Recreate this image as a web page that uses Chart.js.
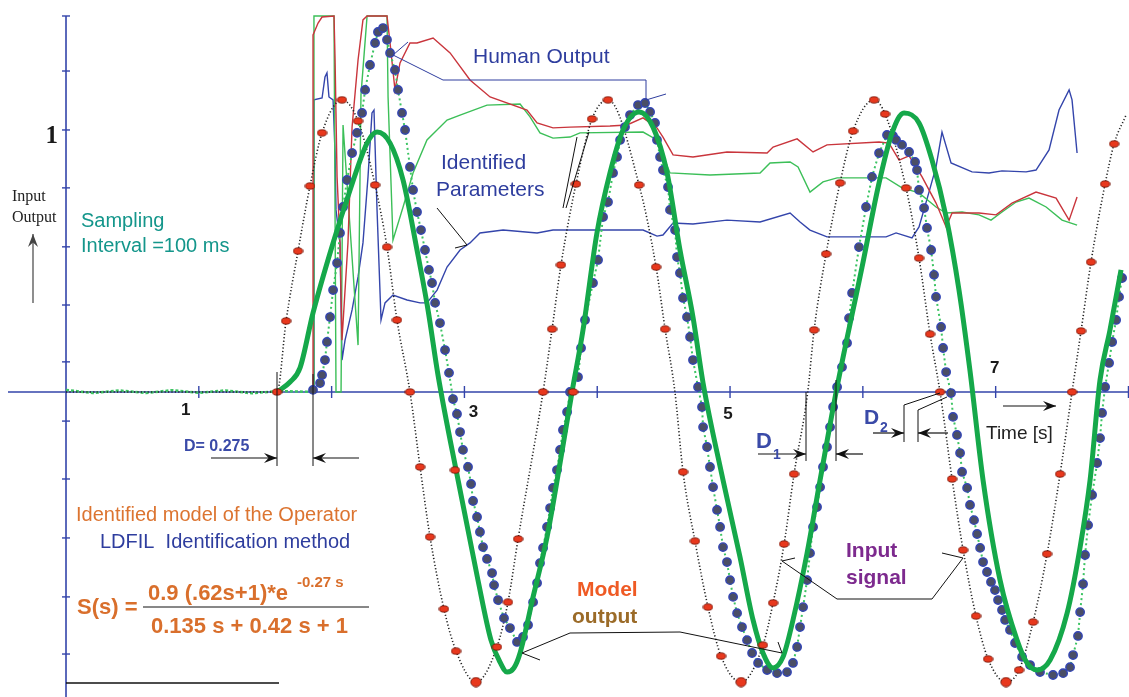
<!DOCTYPE html>
<html>
<head>
<meta charset="utf-8">
<script src="https://cdn.jsdelivr.net/npm/chart.js@4.4.1/dist/chart.umd.min.js"></script>
<style>
  html, body { margin: 0; padding: 0; background: #fff; }
  canvas { display: block; }
</style>
</head>
<body>
<canvas id="chart" width="1129" height="697"></canvas>
<script>
// time [s] / amplitude values
const inputT = [0, 1.589, 1.657, 1.747, 1.837, 1.928, 2.078, 2.199, 2.327, 2.417,
  2.492, 2.590, 2.666, 2.741, 2.846, 2.937, 3.087, 3.245, 3.328, 3.404,
  3.592, 3.660, 3.727, 3.840, 3.961, 4.081, 4.315, 4.443, 4.511, 4.585,
  4.646, 4.736, 4.834, 4.932, 5.083, 5.248, 5.324, 5.407, 5.482, 5.585,
  5.633, 5.723, 5.828, 5.926, 6.084, 6.167, 6.325, 6.423, 6.506, 6.581,
  6.672, 6.755, 6.852, 6.943, 7.078, 7.176, 7.282, 7.387, 7.485, 7.575,
  7.643, 7.718, 7.824, 7.892, 7.982];
const inputV = [0, 0, 0.271, 0.538, 0.786, 0.989, 1.115, 1.034, 0.790, 0.553,
  0.275, 0, -0.286, -0.553, -0.828, -0.989, -1.107, -0.973, -0.802, -0.561,
  0, 0.240, 0.485, 0.794, 1.042, 1.115, 0.790, 0.477, 0.240, 0,
  -0.305, -0.569, -0.821, -1.008, -1.107, -0.966, -0.805, -0.580, -0.313, 0,
  0.237, 0.527, 0.798, 0.996, 1.115, 1.061, 0.779, 0.511, 0.221, 0,
  -0.332, -0.603, -0.855, -1.019, -1.107, -1.061, -0.878, -0.618, -0.313, 0,
  0.233, 0.496, 0.794, 0.947, 1.057];

const markerT = [1.589, 1.657, 1.747, 1.837, 1.928, 2.078, 2.199, 2.327, 2.417, 2.492,
  2.590, 2.666, 2.741, 2.846, 2.937, 3.087, 3.245, 3.328, 3.404, 3.592,
  3.660, 3.727, 3.840, 3.961, 4.081, 4.315, 4.443, 4.511, 4.646, 4.736,
  4.834, 4.932, 5.083, 5.248, 5.324, 5.407, 5.482, 5.633, 5.723, 5.828,
  5.926, 6.084, 6.167, 6.325, 6.423, 6.506, 6.581, 6.672, 6.755, 6.852,
  6.943, 7.078, 7.176, 7.282, 7.387, 7.485, 7.575, 7.643, 7.718, 7.824,
  7.892, 2.929, 3.818];
const markerV = [0, 0.271, 0.538, 0.786, 0.989, 1.115, 1.034, 0.790, 0.553, 0.275,
  0, -0.286, -0.553, -0.828, -0.989, -1.107, -0.973, -0.802, -0.561, 0,
  0.240, 0.485, 0.794, 1.042, 1.115, 0.790, 0.477, 0.240, -0.305, -0.569,
  -0.821, -1.008, -1.107, -0.966, -0.805, -0.580, -0.313, 0.237, 0.527, 0.798,
  0.996, 1.115, 1.061, 0.779, 0.511, 0.221, 0, -0.332, -0.603, -0.855,
  -1.019, -1.107, -1.061, -0.878, -0.618, -0.313, 0, 0.233, 0.496, 0.794,
  0.947, -0.298, 0];

const modelT = [1.589, 1.687, 1.762, 1.860, 2.011, 2.139, 2.267, 2.342, 2.440, 2.538,
  2.643, 2.726, 2.801, 2.952, 3.102, 3.200, 3.268, 3.321, 3.373, 3.419,
  3.517, 3.622, 3.720, 3.810, 3.893, 3.998, 4.096, 4.194, 4.315, 4.420,
  4.526, 4.623, 4.721, 4.797, 4.947, 5.075, 5.173, 5.248, 5.324, 5.399,
  5.474, 5.580, 5.678, 5.806, 5.994, 6.122, 6.220, 6.310, 6.423, 6.521,
  6.627, 6.724, 6.807, 6.905, 7.033, 7.161, 7.236, 7.312, 7.410, 7.538,
  7.636, 7.711, 7.786, 7.861, 7.944];
const modelV = [0, 0.038, 0.092, 0.302, 0.569, 0.771, 0.950, 0.992, 0.950, 0.809,
  0.542, 0.313, 0.065, -0.336, -0.718, -0.947, -1.031, -1.069, -1.053, -0.996,
  -0.782, -0.553, -0.271, 0, 0.237, 0.607, 0.836, 1.0, 1.069, 1.011,
  0.836, 0.542, 0.286, 0.034, -0.336, -0.630, -0.870, -0.996, -1.053, -1.011,
  -0.870, -0.615, -0.336, 0.019, 0.477, 0.798, 0.989, 1.065, 1.027, 0.885,
  0.668, 0.389, 0.080, -0.336, -0.718, -0.947, -1.034, -1.061, -1.023, -0.844,
  -0.592, -0.336, 0.046, 0.237, 0.466];

const humanT = [1.860, 1.913, 1.928, 1.950, 1.965, 1.988, 2.011, 2.041, 2.063, 2.086,
  2.116, 2.154, 2.191, 2.229, 2.252, 2.289, 2.327, 2.349, 2.387, 2.417,
  2.440, 2.477, 2.500, 2.530, 2.553, 2.590, 2.613, 2.643, 2.673, 2.703,
  2.733, 2.756, 2.779, 2.816, 2.854, 2.884, 2.914, 2.944, 2.967, 2.989,
  3.027, 3.050, 3.065, 3.095, 3.117, 3.140, 3.170, 3.208, 3.223, 3.253,
  3.298, 3.343, 3.396, 3.441, 3.479, 3.517, 3.547, 3.569, 3.592, 3.622,
  3.645, 3.667, 3.697, 3.720, 3.742, 3.773, 3.795, 3.855, 3.878, 3.908,
  3.968, 4.006, 4.044, 4.081, 4.119, 4.149, 4.172, 4.209, 4.247, 4.307,
  4.360, 4.398, 4.435, 4.450, 4.473, 4.495, 4.533, 4.548, 4.586, 4.601,
  4.623, 4.646, 4.676, 4.699, 4.721, 4.759, 4.789, 4.797, 4.827, 4.849,
  4.872, 4.902, 4.925, 4.947, 4.977, 5.000, 5.023, 5.053, 5.090, 5.128,
  5.166, 5.211, 5.279, 5.354, 5.429, 5.474, 5.505, 5.527, 5.550, 5.580,
  5.602, 5.625, 5.655, 5.678, 5.700, 5.730, 5.753, 5.776, 5.806, 5.843,
  5.881, 5.896, 5.919, 5.971, 6.024, 6.069, 6.122, 6.182, 6.227, 6.250,
  6.295, 6.348, 6.393, 6.408, 6.423, 6.461, 6.483, 6.514, 6.536, 6.551,
  6.589, 6.604, 6.627, 6.664, 6.679, 6.709, 6.732, 6.747, 6.785, 6.807,
  6.837, 6.860, 6.883, 6.905, 6.935, 6.965, 6.995, 7.018, 7.048, 7.071,
  7.108, 7.146, 7.199, 7.259, 7.334, 7.432, 7.508, 7.560, 7.583, 7.620,
  7.636, 7.658, 7.673, 7.696, 7.726, 7.764, 7.786, 7.801, 7.824, 7.854,
  7.877, 7.907, 7.929, 7.952];
const humanV = [0.008, 0.034, 0.065, 0.122, 0.191, 0.286, 0.389, 0.492, 0.607, 0.706,
  0.809, 0.912, 0.989, 1.065, 1.153, 1.248, 1.332, 1.374, 1.389, 1.344,
  1.294, 1.229, 1.153, 1.065, 1.000, 0.859, 0.771, 0.687, 0.618, 0.542,
  0.466, 0.416, 0.340, 0.263, 0.160, 0.073, -0.027, -0.084, -0.153, -0.221,
  -0.286, -0.351, -0.416, -0.477, -0.534, -0.592, -0.637, -0.691, -0.737, -0.794,
  -0.863, -0.901, -0.954, -0.935, -0.889, -0.802, -0.729, -0.653, -0.595, -0.515,
  -0.443, -0.366, -0.298, -0.221, -0.145, -0.076, 0.000, 0.057, 0.168, 0.275,
  0.416, 0.504, 0.668, 0.725, 0.836, 0.897, 0.962, 1.011, 1.057, 1.095,
  1.103, 1.069, 1.027, 0.962, 0.897, 0.847, 0.782, 0.695, 0.618, 0.515,
  0.454, 0.359, 0.286, 0.210, 0.122, 0.019, -0.057, -0.134, -0.210, -0.286,
  -0.363, -0.450, -0.515, -0.592, -0.649, -0.718, -0.782, -0.844, -0.897, -0.947,
  -0.996, -1.034, -1.061, -1.073, -1.069, -1.034, -0.973, -0.897, -0.821, -0.718,
  -0.615, -0.515, -0.439, -0.363, -0.286, -0.210, -0.134, -0.057, 0.019, 0.095,
  0.187, 0.282, 0.378, 0.553, 0.706, 0.821, 0.912, 0.981, 0.977, 0.962,
  0.943, 0.916, 0.878, 0.847, 0.771, 0.702, 0.626, 0.542, 0.447, 0.363,
  0.248, 0.168, 0.076, -0.004, -0.095, -0.164, -0.233, -0.305, -0.366, -0.431,
  -0.489, -0.542, -0.595, -0.649, -0.687, -0.725, -0.756, -0.794, -0.832, -0.870,
  -0.908, -0.958, -1.011, -1.042, -1.069, -1.080, -1.073, -1.050, -1.004, -0.931,
  -0.840, -0.733, -0.622, -0.508, -0.393, -0.271, -0.176, -0.080, 0.019, 0.111,
  0.191, 0.275, 0.363, 0.435];

// output trace before the operator reacts (small noise around zero)
const baseT = [0, 0.2, 0.4, 0.6, 0.8, 1.0, 1.2, 1.4, 1.6, 1.86];
const baseV = [0.008, -0.004, 0.006, -0.004, 0.007, -0.003, 0.006, -0.005, 0.004, 0];

// identified parameters (three traces)
const redT = [1.860, 1.860, 1.898, 1.928, 2.018, 2.026, 2.041, 2.063, 2.078, 2.123,
  2.154, 2.199, 2.236, 2.267, 2.417, 2.440, 2.477, 2.515, 2.590, 2.643,
  2.764, 2.892, 3.042, 3.193, 3.471, 3.547, 3.667, 3.795, 4.096, 4.224,
  4.345, 4.450, 4.495, 4.571, 4.721, 4.977, 5.279, 5.324, 5.505, 5.625,
  5.730, 6.122, 6.197, 6.273, 6.348, 6.446, 6.551, 6.627, 6.672, 6.875,
  7.003, 7.123, 7.304, 7.455, 7.553, 7.613];
const redV = [0, 1.363, 1.408, 1.431, 1.435, 1.267, 0.821, 0.569, 0.198, 0.569,
  1.011, 1.267, 1.420, 1.435, 1.435, 1.332, 1.153, 1.256, 1.332, 1.332,
  1.351, 1.294, 1.191, 1.126, 1.076, 1.027, 1.008, 1.011, 1.015, 1.019,
  1.046, 1.008, 0.973, 0.905, 0.897, 0.916, 0.912, 0.935, 0.966, 0.916,
  0.943, 0.954, 0.950, 0.885, 0.901, 0.821, 0.721, 0.630, 0.683, 0.683,
  0.676, 0.721, 0.763, 0.740, 0.656, 0.744];
const greenT = [1.867, 1.867, 2.018, 2.033, 2.071, 2.086, 2.199, 2.221, 2.267, 2.417,
  2.425, 2.462, 2.538, 2.613, 2.718, 2.869, 2.967, 3.170, 3.419, 3.494,
  3.569, 3.667, 3.795, 3.870, 4.345, 4.450, 4.548, 4.849, 5.226, 5.301,
  5.452, 5.512, 5.602, 5.700, 5.806, 6.175, 6.295, 6.423, 6.551, 6.627,
  6.747, 6.875, 6.965, 7.048, 7.154, 7.251, 7.380, 7.500, 7.613];
const greenV = [0, 1.435, 1.435, 0, 0, 1.019, 0.179, 1.134, 1.435, 1.435,
  1.126, 0.580, 0.706, 0.836, 0.962, 1.038, 1.057, 1.095, 1.099, 1.050,
  0.989, 0.969, 0.973, 0.989, 0.992, 0.962, 0.836, 0.828, 0.836, 0.874,
  0.878, 0.859, 0.763, 0.802, 0.817, 0.817, 0.779, 0.760, 0.706, 0.683,
  0.687, 0.676, 0.656, 0.687, 0.725, 0.740, 0.706, 0.656, 0.637];
const blueT = [1.860, 1.867, 1.928, 1.950, 1.965, 1.980, 2.011, 2.026, 2.033, 2.063,
  2.078, 2.101, 2.154, 2.199, 2.236, 2.274, 2.304, 2.319, 2.342, 2.372,
  2.402, 2.462, 2.568, 2.666, 2.718, 2.794, 2.869, 2.967, 3.042, 3.117,
  3.291, 3.547, 3.667, 3.968, 4.345, 4.450, 4.495, 4.571, 4.721, 4.977,
  5.226, 5.452, 5.527, 5.602, 5.730, 6.175, 6.250, 6.370, 6.423, 6.498,
  6.551, 6.596, 6.664, 6.822, 6.950, 7.048, 7.229, 7.304, 7.402, 7.477,
  7.553, 7.575, 7.613];
const blueV = [0, 1.115, 1.122, 1.202, 1.218, 1.126, 1.115, 0.912, 0.695, 0.569,
  0.122, 0.198, 0.313, 0.439, 0.569, 0.821, 1.065, 1.076, 0.695, 0.275,
  0.340, 0.370, 0.351, 0.340, 0.340, 0.389, 0.477, 0.542, 0.569, 0.607,
  0.618, 0.607, 0.618, 0.618, 0.618, 0.595, 0.599, 0.645, 0.641, 0.656,
  0.649, 0.683, 0.649, 0.618, 0.592, 0.592, 0.607, 0.588, 0.630, 0.763,
  0.859, 0.992, 0.874, 0.840, 0.836, 0.844, 0.840, 0.847, 0.924, 1.076,
  1.153, 1.115, 0.912];

const xTicks = [1, 2, 3, 4, 5, 6, 7, 8];
const xLabels = ["1", "3", "5", "7"];
const yTicks = [1.435, 1.225, 1.0, 0.779, 0.554, 0.332, 0.115, -0.111, -0.332, -0.557, -0.782, -1.0];

const pts = (ts, vs) => ts.map((t, i) => ({ x: t, y: vs[i] }));

const SANS = "'Liberation Sans', Arial, sans-serif";
const SERIF = "'Liberation Serif', 'Times New Roman', serif";
const AXIS = "#3344aa";

function ellipseDot(w, h) {
  const c = document.createElement("canvas");
  c.width = w; c.height = h;
  const g = c.getContext("2d");
  g.beginPath();
  g.ellipse(w / 2, h / 2, w / 2 - 0.8, h / 2 - 0.8, 0, 0, Math.PI * 2);
  g.fillStyle = "#e8381d";
  g.fill();
  g.lineWidth = 0.8;
  g.strokeStyle = "#6a1206";
  g.stroke();
  return c;
}
const smallDot = ellipseDot(11, 8);
const bigDot = ellipseDot(12, 11);

function line(ctx, p, color, w) {
  ctx.beginPath();
  ctx.moveTo(p[0][0], p[0][1]);
  for (let i = 1; i < p.length; i++) ctx.lineTo(p[i][0], p[i][1]);
  ctx.strokeStyle = color;
  ctx.lineWidth = w;
  ctx.stroke();
}

function arrow(ctx, x1, y1, x2, y2, color) {
  line(ctx, [[x1, y1], [x2, y2]], color, 1.2);
  const a = Math.atan2(y2 - y1, x2 - x1);
  const c = Math.cos(a), s = Math.sin(a);
  const len = 13, hw = 5;
  ctx.beginPath();
  ctx.moveTo(x2, y2);
  ctx.lineTo(x2 - len * c + hw * s, y2 - len * s - hw * c);
  ctx.lineTo(x2 - 0.65 * len * c, y2 - 0.65 * len * s);
  ctx.lineTo(x2 - len * c - hw * s, y2 - len * s + hw * c);
  ctx.closePath();
  ctx.fillStyle = color;
  ctx.fill();
}

function text(ctx, s, x, y, font, color, align) {
  ctx.font = font;
  ctx.fillStyle = color;
  ctx.textAlign = align || "left";
  ctx.textBaseline = "middle";
  ctx.fillText(s, x, y);
}

const overlay = {
  id: "overlay",
  beforeDatasetsDraw(chart) {
    const { ctx, scales: { x, y } } = chart;
    ctx.save();
    const y0 = y.getPixelForValue(0);
    const x0 = x.getPixelForValue(0);
    // axes
    line(ctx, [[8, y0], [chart.width, y0]], AXIS, 1.6);
    line(ctx, [[x0, y.getPixelForValue(yTicks[0])], [x0, chart.height]], AXIS, 1.6);
    xTicks.forEach(t => {
      const px = x.getPixelForValue(t);
      line(ctx, [[px, y0 - 6], [px, y0 + 6]], AXIS, 1.4);
    });
    yTicks.forEach(v => {
      const py = y.getPixelForValue(v);
      line(ctx, [[x0 - 4, py], [x0 + 4, py]], AXIS, 1.4);
    });
    ctx.restore();
  },
  afterDatasetsDraw(chart) {
    const { ctx, scales: { x, y } } = chart;
    ctx.save();
    ctx.lineCap = "butt";
    const y0 = y.getPixelForValue(0);

    // tick labels
    const labelPos = [[-13, 18], [9, 20], [-2, 22], [-1, -24]];
    xLabels.forEach((s, i) => {
      const px = x.getPixelForValue(Number(s));
      text(ctx, s, px + labelPos[i][0], y0 + labelPos[i][1], "bold 17px " + SANS, "#1a1a1a", "center");
    });
    text(ctx, "1", 58, y.getPixelForValue(1) + 7, "bold 25px " + SERIF, "#1a1a1a", "right");

    // y axis caption
    text(ctx, "Input", 12, 197, "16px " + SERIF, "#222", "left");
    text(ctx, "Output", 12, 218, "16px " + SERIF, "#222", "left");
    arrow(ctx, 33, 303, 33, 234, "#444");

    text(ctx, "Sampling", 81, 221, "20px " + SANS, "#14968b");
    text(ctx, "Interval =100 ms", 81, 246, "20px " + SANS, "#14968b");

    // Human output label + leader
    text(ctx, "Human Output", 473, 57, "21px " + SANS, "#2e3d9e");
    line(ctx, [[408, 42], [393, 55]], "#2e3d9e", 1);
    line(ctx, [[393, 55], [443, 80], [646, 80], [646, 100], [666, 94]], "#2e3d9e", 1);

    // Identified parameters
    text(ctx, "Identified", 441, 163, "21px " + SANS, "#2e3d9e");
    text(ctx, "Parameters", 436, 190, "21px " + SANS, "#2e3d9e");
    line(ctx, [[437, 208], [467, 245], [455, 248]], "#111", 1);
    line(ctx, [[563, 208], [577, 137]], "#111", 1);
    line(ctx, [[566, 208], [589, 132]], "#111", 1);

    // delay D
    line(ctx, [[277, 372], [277, 466]], "#111", 1);
    line(ctx, [[313, 374], [313, 466]], "#111", 1);
    arrow(ctx, 211, 458, 277, 458, "#111");
    arrow(ctx, 359, 458, 313, 458, "#111");
    text(ctx, "D= 0.275", 184, 447, "bold 16px " + SANS, "#3a4aa8");

    // D1
    line(ctx, [[806, 392], [806, 461]], "#111", 1);
    line(ctx, [[836, 380], [836, 461]], "#111", 1);
    arrow(ctx, 758, 454, 806, 454, "#111");
    arrow(ctx, 863, 454, 836, 454, "#111");
    text(ctx, "D", 756, 442, "bold 22px " + SANS, "#3a4aa8");
    text(ctx, "1", 773, 455, "bold 14px " + SANS, "#3a4aa8");

    // D2
    line(ctx, [[940, 393], [904, 405], [904, 442]], "#111", 1);
    line(ctx, [[947, 397], [918, 410], [918, 442]], "#111", 1);
    arrow(ctx, 873, 433, 904, 433, "#111");
    arrow(ctx, 948, 433, 918, 433, "#111");
    text(ctx, "D", 864, 418, "bold 21px " + SANS, "#3a4aa8");
    text(ctx, "2", 880, 428, "bold 14px " + SANS, "#3a4aa8");

    // time axis caption
    arrow(ctx, 1003, 406, 1056, 406, "#111");
    text(ctx, "Time [s]", 986, 434, "19px " + SANS, "#222");

    // model description
    text(ctx, "Identified model of the Operator", 76, 515, "20px " + SANS, "#dc7430");
    text(ctx, "LDFIL  Identification method", 100, 542, "20px " + SANS, "#2e3d9e");
    text(ctx, "S(s) =", 77, 608, "bold 22px " + SANS, "#d96f2c");
    text(ctx, "0.9 (.62s+1)*e", 148, 594, "bold 22px " + SANS, "#d96f2c");
    text(ctx, "-0.27 s", 297, 583, "bold 15px " + SANS, "#d96f2c");
    line(ctx, [[143, 607], [369, 607]], "#111", 1);
    text(ctx, "0.135 s + 0.42 s + 1", 151, 627, "bold 22px " + SANS, "#d96f2c");
    line(ctx, [[66, 683], [279, 683]], "#111", 1.4);

    // model output label
    text(ctx, "Model", 577, 590, "bold 21px " + SANS, "#ef5a24");
    text(ctx, "output", 572, 617, "bold 21px " + SANS, "#9b6b28");
    line(ctx, [[540, 660], [522, 653], [570, 633], [680, 632], [782, 653], [778, 642]], "#111", 1);

    // input signal label
    text(ctx, "Input", 846, 551, "bold 21px " + SANS, "#7d2a8e");
    text(ctx, "signal", 846, 578, "bold 21px " + SANS, "#7d2a8e");
    line(ctx, [[795, 558], [782, 561], [837, 599], [932, 599], [963, 558], [942, 553]], "#111", 1);

    ctx.restore();
  }
};

new Chart(document.getElementById("chart"), {
  type: "line",
  data: {
    datasets: [
      {
        label: "Input samples",
        data: pts(markerT, markerV),
        showLine: false,
        pointStyle: c => (c.raw && c.raw.y <= -1.1 ? bigDot : smallDot),
        pointRadius: 4,
        order: 0
      },
      {
        label: "Model output",
        data: pts(modelT, modelV),
        borderColor: "#15a84a",
        borderWidth: 5,
        cubicInterpolationMode: "monotone",
        pointRadius: 0,
        order: 1
      },
      {
        label: "Human output",
        data: pts(humanT, humanV),
        borderColor: "#3cc463",
        borderWidth: 2,
        borderDash: [2, 3],
        pointRadius: 4.2,
        pointBackgroundColor: "#4a4e66",
        pointBorderColor: "#3345b5",
        pointBorderWidth: 1.4,
        order: 2
      },
      {
        label: "Input signal",
        data: pts(inputT, inputV),
        borderColor: "#222",
        borderWidth: 1.6,
        borderDash: [1.2, 2.2],
        cubicInterpolationMode: "monotone",
        pointRadius: 0,
        order: 3
      },
      {
        label: "Parameter 1",
        data: pts(redT, redV),
        borderColor: "#c9353c",
        borderWidth: 1.4,
        pointRadius: 0,
        order: 4
      },
      {
        label: "Parameter 2",
        data: pts(greenT, greenV),
        borderColor: "#3cbf58",
        borderWidth: 1.4,
        pointRadius: 0,
        order: 5
      },
      {
        label: "Parameter 3",
        data: pts(blueT, blueV),
        borderColor: "#3445ab",
        borderWidth: 1.4,
        pointRadius: 0,
        order: 6
      },
      {
        label: "Output before reaction",
        data: pts(baseT, baseV),
        borderColor: "#3cc463",
        borderWidth: 2.5,
        borderDash: [3, 2],
        pointRadius: 0,
        order: 7
      }
    ]
  },
  options: {
    responsive: false,
    devicePixelRatio: 1,
    animation: false,
    events: [],
    layout: { padding: 0, autoPadding: false },
    scales: {
      x: { type: "linear", min: -0.497, max: 8.004, display: false },
      y: { type: "linear", min: -1.164, max: 1.496, display: false }
    },
    plugins: {
      legend: { display: false },
      tooltip: { enabled: false }
    }
  },
  plugins: [overlay]
});
</script>
</body>
</html>
